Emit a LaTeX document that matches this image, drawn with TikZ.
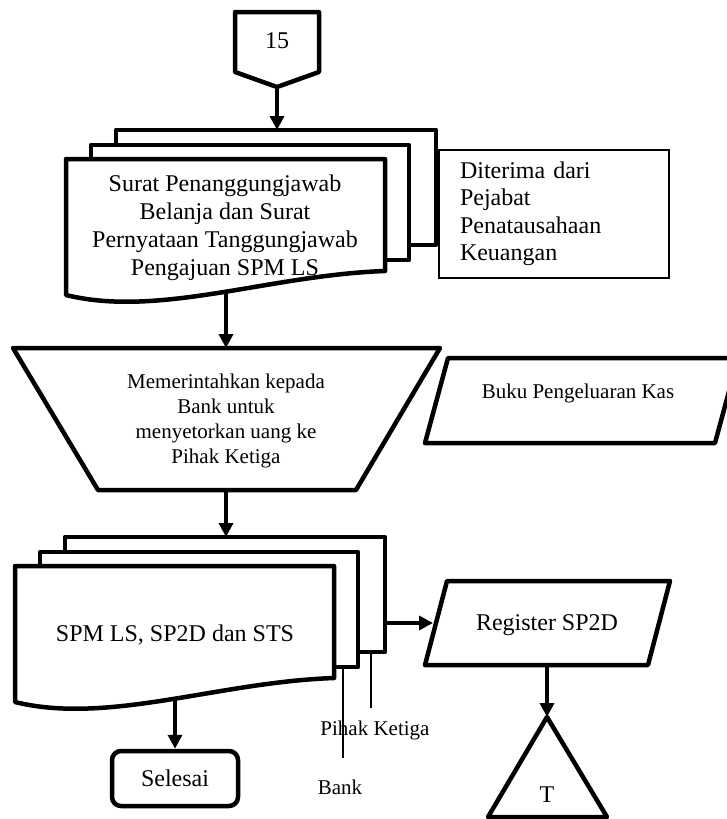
\documentclass[tikz,border=0pt]{standalone}
\usepackage{fontspec}
\setmainfont{Liberation Serif}
\usetikzlibrary{arrows.meta}
\begin{document}
\begin{tikzpicture}[x=1pt,y=-1pt,
  heavy/.style={line width=4.5pt, line join=round},
  thinline/.style={line width=1.2pt},
  flow/.style={line width=3.5pt, -{Triangle[length=14pt,width=14pt]}},
  big/.style={font=\fontsize{24}{28}\selectfont},
  mid/.style={font=\fontsize{21}{25}\selectfont},
  % a stack of three documents; origin = top-left corner of the front sheet
  docstack/.pic={
    \draw[heavy, fill=white] (50,-29) rectangle (370,86);
    \draw[heavy, fill=white] (25,-14) rectangle (343,101);
    \draw[heavy, fill=white] (0,0) -- (319,0) -- (319,112)
      .. controls (203,116) and (93,159) .. (0,136) -- cycle;
    \coordinate (-in) at (211,-29);
    \coordinate (-out) at (160,132);
    \coordinate (-east) at (370,57);
    \coordinate (-midfoot) at (328,101);
    \coordinate (-backfoot) at (356,86);
  }]
\useasboundingbox (0,0) rectangle (726,819);

% off-page connector
\draw[heavy] (235,12) -- (319,12) -- (319,72) -- (277,87) -- (235,72) -- cycle;
\node[big] (c15) at (277,41) {15};
\coordinate (c15tip) at (277,87);

% incoming documents
\node[draw, thinline, minimum width=230pt, minimum height=128pt, text width=188pt,
      inner xsep=21pt, align=left, font=\fontsize{24}{27.5}\selectfont]
  (recv) at (554,214) {Diterima dari\\Pejabat\\Penatausahaan\\Keuangan};
\pic (d1) at (66,159) {docstack};
\node[big, align=center] (d1text) at (225,228)
  {Surat Penanggungjawab\\Belanja dan Surat\\Pernyataan Tanggungjawab\\Pengajuan SPM LS};

% manual operation
\draw[heavy] (13,348) -- (440,348) -- (356,490) -- (98,490) -- cycle;
\coordinate (trapN) at (226,348);
\coordinate (trapS) at (226,490);
\node[mid, align=center] (ordertext) at (226,421)
  {Memerintahkan kepada\\Bank untuk\\menyetorkan uang ke\\Pihak Ketiga};

% cash book
\draw[heavy] (448,358) -- (738,358) -- (715,443) -- (425,443) -- cycle;
\node[mid] (cashbook) at (578,393) {Buku Pengeluaran Kas};

% output documents
\pic (d2) at (15,566) {docstack};
\node[big] (d2text) at (175,635) {SPM LS, SP2D dan STS};

% register
\draw[heavy] (447,581) -- (670,581) -- (648,665) -- (425,665) -- cycle;
\node[big] (regtext) at (547,625) {Register SP2D};
\coordinate (regW) at (433,623);
\coordinate (regS) at (547,665);

% archive
\draw[heavy] (547,717) -- (607,817) -- (488,817) -- cycle;
\coordinate (triTop) at (547,717);
\node[big] (tlabel) at (547,795) {T};

% terminator
\node[draw, heavy, rounded corners=9pt, minimum width=126pt, minimum height=55pt, big]
  (done) at (175,778.5) {Selesai};

% copy labels
\node[mid] (pihak) at (375,730) {Pihak Ketiga};
\node[mid] (bank) at (340,787) {Bank};
\coordinate (pihakEnd) at (371,708);
\coordinate (bankEnd) at (343,758);
\draw[thinline] (d2-backfoot) -- (pihakEnd);
\draw[thinline] (d2-midfoot) -- (bankEnd);

% flow
\draw[flow] (c15tip) -- (d1-in);
\draw[flow] (d1-out) -- (trapN);
\draw[flow] (trapS) -- (d2-in);
\draw[flow] (d2-out) -- (done.north);
\draw[flow] (d2-east) -- (regW);
\draw[flow] (regS) -- (triTop);
\end{tikzpicture}
\end{document}
